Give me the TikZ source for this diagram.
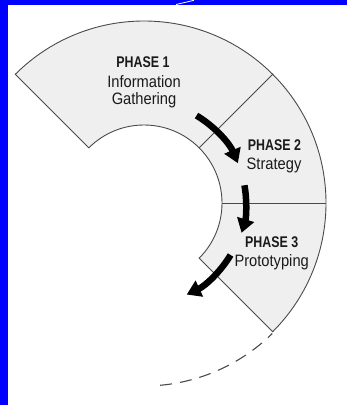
\documentclass[tikz,border=0pt]{standalone}
\usepackage{fontspec}
\setmainfont{Liberation Sans}[FakeStretch=0.89]
\newfontfamily\phasefont{Liberation Sans}[FakeStretch=0.80]
\usetikzlibrary{arrows.meta}
\definecolor{ringfill}{HTML}{EFEFEF}
\definecolor{ringline}{HTML}{4A4A4A}
\definecolor{txt}{HTML}{1A1A1A}
\tikzset{
  ringpath/.style={fill=ringfill, draw=ringline, line width=0.9pt},
  divider/.style={draw=ringline, line width=0.9pt},
  phasetitle/.style={anchor=base, inner sep=0pt, text=txt, font=\phasefont\bfseries\fontsize{15.5pt}{18pt}\selectfont},
  phasetext/.style={anchor=base, inner sep=0pt, text=txt, font=\fontsize{16.5pt}{18pt}\selectfont},
  bigarrow/.style={draw=black, line width=6.5pt, -{Triangle[width=17pt,length=14pt]}},
  dashedarc/.style={draw=ringline, line width=1.1pt, dash pattern=on 12pt off 8pt, dash phase=6pt}
}
\begin{document}
\begin{tikzpicture}[x=1pt,y=1pt]
\useasboundingbox (0,0) rectangle (347,-405);
\fill[blue] (0,0) rectangle (347,-405);
\fill[white] (8,-5) rectangle (347,-405);
\draw[white, line width=0.8pt] (176,-4.5) -- (194,-0.3);
\coordinate (c) at (144,-203);
% ring
\path[ringpath] ([shift={(135:78)}]c) -- ([shift={(135:182)}]c)
  arc[start angle=135, end angle=-45, radius=182]
  -- ([shift={(-45:78)}]c)
  arc[start angle=-45, end angle=135, radius=78] -- cycle;
\draw[divider] ([shift={(45:78)}]c) -- ([shift={(45:182)}]c);
\draw[divider] ([shift={(0:78)}]c) -- ([shift={(0:182)}]c);
% dashed continuation
\coordinate (d0) at ([shift={(-45.5:183)}]c);
\draw[dashedarc] (d0) arc[start angle=-45.5, end angle=-86.5, radius=183];
% texts
\node[phasetitle] (p1) at (143,-67.7) {PHASE 1};
\node[phasetext] (p1a) at (144,-87) {Information};
\node[phasetext] (p1b) at (144,-104.5) {Gathering};
\node[phasetitle] (p2) at (274.5,-150.7) {PHASE 2};
\node[phasetext] (p2a) at (274,-169) {Strategy};
\node[phasetitle] (p3) at (271.7,-247.3) {PHASE 3};
\node[phasetext] (p3a) at (271.7,-266.7) {Prototyping};
% arrows
\coordinate (a1s) at ([shift={(59:102)}]c);
\coordinate (a2s) at ([shift={(10:102)}]c);
\coordinate (a3s) at ([shift={(-31:101)}]c);
\draw[bigarrow] (a1s) arc[start angle=59, end angle=23, radius=102];
\draw[bigarrow] (a2s) arc[start angle=10, end angle=-17, radius=102];
\draw[bigarrow] (a3s) arc[start angle=-31, end angle=-65, radius=101];
\end{tikzpicture}
\end{document}
